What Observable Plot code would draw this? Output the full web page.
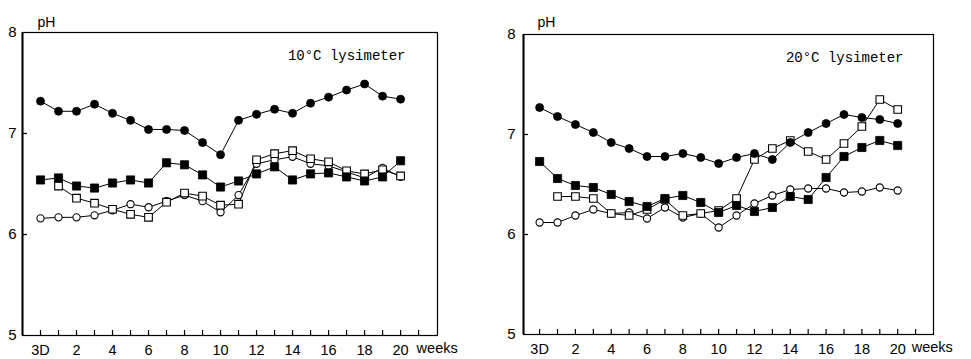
<!DOCTYPE html>
<html>
<head>
<meta charset="utf-8">
<script src="https://cdn.jsdelivr.net/npm/d3@7"></script>
<script src="https://cdn.jsdelivr.net/npm/@observablehq/plot@0.6"></script>
<style>
  html, body { margin: 0; padding: 0; background: #fff; }
  #wrap { display: flex; width: 971px; height: 359px; overflow: hidden; background: #fff; }
</style>
</head>
<body>
<div id="wrap"></div>
<script>
// ---- data (index 0 = "3D", then weeks 1..20) ----
const weeks = [0,1,2,3,4,5,6,7,8,9,10,11,12,13,14,15,16,17,18,19,20];
const minorTicks = [0,1,2,3,4,5,6,7,8,9,10,11,12,13,14,15,16,17,18,19,20,21];
const xTickValues = [0,2,4,6,8,10,12,14,16,18,20];
const xTickLabels = ["3D","2","4","6","8","10","12","14","16","18","20"];
const yTickValues = [5,6,7,8];
const yTickLabels = ["5","6","7","8"];
const panelTitles = ["10°C lysimeter", "20°C lysimeter"];

// 10°C lysimeter
const left_filledCircle = [7.32,7.22,7.22,7.29,7.20,7.13,7.04,7.04,7.03,6.91,6.79,7.13,7.19,7.24,7.20,7.30,7.36,7.43,7.49,7.37,7.34];
const left_filledSquare = [6.54,6.56,6.48,6.46,6.51,6.54,6.51,6.71,6.69,6.59,6.47,6.53,6.60,6.67,6.54,6.60,6.61,6.57,6.53,6.57,6.73];
const left_openSquare   = [null,6.48,6.36,6.31,6.25,6.20,6.17,6.32,6.41,6.38,6.29,6.30,6.74,6.80,6.83,6.75,6.72,6.63,6.60,6.64,6.58];
const left_openCircle   = [6.16,6.17,6.17,6.19,6.24,6.30,6.27,6.33,6.39,6.33,6.22,6.39,6.70,6.74,6.77,6.70,6.68,6.62,6.56,6.66,6.57];

// 20°C lysimeter
const right_filledCircle = [7.27,7.18,7.10,7.02,6.92,6.86,6.78,6.78,6.81,6.77,6.71,6.77,6.81,6.75,6.92,7.02,7.11,7.20,7.17,7.15,7.11];
const right_filledSquare = [6.73,6.56,6.49,6.47,6.40,6.33,6.28,6.36,6.39,6.32,6.22,6.29,6.23,6.27,6.38,6.35,6.57,6.78,6.87,6.94,6.89];
const right_openSquare   = [null,6.38,6.38,6.36,6.21,6.19,6.25,6.35,6.19,6.21,6.24,6.36,6.75,6.86,6.94,6.83,6.75,6.91,7.08,7.35,7.25];
const right_openCircle   = [6.12,6.12,6.19,6.25,6.21,6.22,6.16,6.27,6.17,6.21,6.07,6.19,6.31,6.39,6.45,6.46,6.46,6.42,6.43,6.47,6.44];

function toRows(values) {
  return weeks.map((w, i) => ({x: w, y: values[i]})).filter(d => d.y != null);
}

function panel(cfg) {
  const series = cfg.series;
  const plotW = cfg.width - cfg.marginLeft - cfg.marginRight;
  const plotH = cfg.height - cfg.marginTop - cfg.marginBottom;
  const marks = [];
  for (const s of series) {
    marks.push(Plot.line(toRows(s.values), {x: "x", y: "y", stroke: "black", strokeWidth: 1}));
  }
  const order = [series[3], series[2], series[1], series[0]];
  for (const s of order) {
    marks.push(Plot.dot(toRows(s.values), {
      x: "x", y: "y", symbol: s.symbol, r: s.r,
      fill: s.filled ? "black" : "white", stroke: "black", strokeWidth: s.filled ? 0.8 : 1.1
    }));
  }
  marks.push(
    Plot.frame({stroke: "black", strokeWidth: 1.2}),
    Plot.ruleX([cfg.xDomain[0]], {stroke: "black", strokeWidth: 2}),
    Plot.tickX(minorTicks, {x: d => d, stroke: "black", strokeWidth: 1.2, insetTop: plotH - 5}),
    Plot.tickY(yTickValues.slice(1, 3), {y: d => d, stroke: "black", strokeWidth: 1.2, insetRight: plotW - 5}),
    Plot.axisX({ticks: xTickValues, tickFormat: d => xTickLabels[xTickValues.indexOf(d)], tickSize: 0, tickPadding: 9, fontSize: 14.5, label: null}),
    Plot.axisY({ticks: yTickValues, tickFormat: d => yTickLabels[yTickValues.indexOf(d)], tickSize: 0, tickPadding: cfg.yPad, fontSize: 15, label: null}),
    Plot.text(["pH"], {frameAnchor: "top-left", dx: cfg.phDx, dy: cfg.phDy, textAnchor: "start", fontSize: 14}),
    Plot.text([cfg.title], {frameAnchor: "top-right", dx: -cfg.titleDx, dy: 18, textAnchor: "end",
      fontFamily: "Liberation Mono, monospace", fontSize: 14}),
    Plot.text(["weeks"], {x: 20, frameAnchor: "bottom", dx: cfg.weeksDx, dy: 17, textAnchor: "start", fontSize: 14.5})
  );
  return Plot.plot({
    width: cfg.width, height: cfg.height,
    marginLeft: cfg.marginLeft, marginRight: cfg.marginRight,
    marginTop: cfg.marginTop, marginBottom: cfg.marginBottom,
    x: {domain: cfg.xDomain, axis: null},
    y: {domain: [5, 8], axis: null},
    style: {fontFamily: "Liberation Sans, Arial, sans-serif", background: "white", color: "black", overflow: "visible"},
    marks
  });
}

const seriesStyle = (fc, fs, os, oc) => [
  {values: fc, symbol: "circle", filled: true, r: 4},
  {values: fs, symbol: "square", filled: true, r: 4.6},
  {values: os, symbol: "square", filled: false, r: 4.3},
  {values: oc, symbol: "circle", filled: false, r: 3.6}
];

const wrap = document.getElementById("wrap");
wrap.appendChild(panel({
  width: 485, height: 359, marginLeft: 22, marginRight: 48, marginTop: 32, marginBottom: 24,
  xDomain: [-1, 22.05], yPad: 6, phDx: 15, phDy: -15, titleDx: 32, weeksDx: 16,
  title: panelTitles[0],
  series: seriesStyle(left_filledCircle, left_filledSquare, left_openSquare, left_openCircle)
}));
wrap.appendChild(panel({
  width: 486, height: 359, marginLeft: 38, marginRight: 38, marginTop: 34, marginBottom: 25,
  xDomain: [-0.9, 22], yPad: 8, phDx: 14, phDy: -17, titleDx: 30, weeksDx: 14,
  title: panelTitles[1],
  series: seriesStyle(right_filledCircle, right_filledSquare, right_openSquare, right_openCircle)
}));
</script>
</body>
</html>
